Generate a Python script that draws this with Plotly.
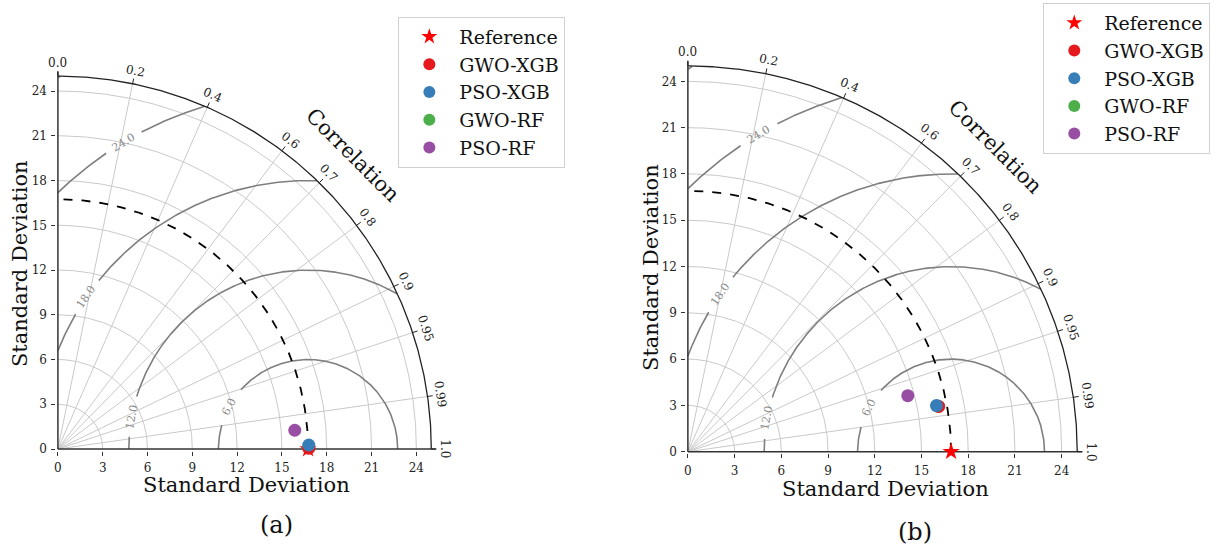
import numpy as np
import plotly.graph_objects as go

# ---------------- data ----------------
models = ["GWO-XGB", "PSO-XGB", "GWO-RF", "PSO-RF"]
model_colors = ["#e41a1c", "#377eb8", "#4daf4a", "#984ea3"]
draw_order = [2, 0, 1, 3]  # green hidden beneath red/blue

ref_std_a = 16.75
std_a = [16.80, 16.80, 16.79, 15.91]
corr_a = [0.999995, 0.99987, 0.99995, 0.99686]

ref_std_b = 16.9
std_b = [16.37, 16.24, 16.33, 14.58]
corr_b = [0.9838, 0.9829, 0.9836, 0.9685]

corr_ticks = [0.0, 0.2, 0.4, 0.6, 0.7, 0.8, 0.9, 0.95, 0.99, 1.0]
corr_tick_labels = ["0.0", "0.2", "0.4", "0.6", "0.7", "0.8", "0.9", "0.95", "0.99", "1.0"]
std_ticks = [0, 3, 6, 9, 12, 15, 18, 21, 24]
std_tick_labels = ["0", "3", "6", "9", "12", "15", "18", "21", "24"]
rms_levels = [6, 12, 18, 24, 30]
rms_labels = ["6.0", "12.0", "18.0", "24.0", ""]
max_std = 25.0

# ---------------- style ----------------
SERIF = "DejaVu Serif"
label_angle = {6: 151.5, 12: 169.5, 18: 145.5, 24: 121.0}
GRID = "#c9c9c9"
CONT = "#7f7f7f"
AX_END = 25.3
RMIN, RMAX = -0.1, 27.8

fig = go.Figure()


def arc_pts(cx, r, t0, t1, n=400):
    t = np.linspace(t0, t1, n)
    return cx + r * np.cos(t), r * np.sin(t)


def line(xa, ya, x, y, **kw):
    fig.add_trace(go.Scatter(x=x, y=y, mode="lines", line=kw, xaxis=xa, yaxis=ya,
                             showlegend=False, hoverinfo="skip", connectgaps=False))


def panel(xa, ya, ref_std, stds, corrs, legend_name):
    # std grid circles
    gx, gy = [], []
    for s in std_ticks[1:]:
        x, y = arc_pts(0, s, 0, np.pi / 2, 200)
        gx += list(x) + [None]
        gy += list(y) + [None]
    # correlation rays
    for c in corr_ticks[1:-1]:
        th = np.arccos(c)
        gx += [0, max_std * np.cos(th), None]
        gy += [0, max_std * np.sin(th), None]
    line(xa, ya, gx, gy, color=GRID, width=1)

    # RMS contours centred on the reference
    cx_, cy_ = [], []
    for lev, lab in zip(rms_levels, rms_labels):
        t = np.linspace(0, np.pi, 1500)
        x = ref_std + lev * np.cos(t)
        y = lev * np.sin(t)
        ok = (np.hypot(x, y) <= max_std) & (x >= 0)
        if lab:
            phi = np.deg2rad(label_angle[lev])
            ok &= np.abs(t - phi) > 1.35 / lev
        for xi, yi, k in zip(x, y, ok):
            if k:
                cx_.append(xi); cy_.append(yi)
            elif cx_ and cx_[-1] is not None:
                cx_.append(None); cy_.append(None)
        cx_.append(None); cy_.append(None)
        if lab:
            phi = np.deg2rad(label_angle[lev])
            fig.add_annotation(x=ref_std + lev * np.cos(phi), y=lev * np.sin(phi), xref=xa, yref=ya,
                               xanchor="center", yanchor="middle",
                               text=lab, showarrow=False, textangle=-(label_angle[lev] - 90),
                               font=dict(family=SERIF, size=11, color="#8a8a8a"))
    line(xa, ya, cx_, cy_, color=CONT, width=1.6)

    # reference std arc (dashed)
    x, y = arc_pts(0, ref_std, 0, np.pi / 2)
    line(xa, ya, x, y, color="black", width=1.8, dash="dash")
    # outer arc
    x, y = arc_pts(0, max_std, 0, np.pi / 2)
    line(xa, ya, x, y, color="#222", width=1.3)
    # axis spines
    line(xa, ya, [0, AX_END, None, 0, 0], [0, 0, None, 0, AX_END], color="#333", width=1.5)
    # correlation ticks and labels
    tx, ty = [], []
    for c, lab in zip(corr_ticks, corr_tick_labels):
        th = np.arccos(c)
        tx += [max_std * np.cos(th), (max_std + 0.35) * np.cos(th), None]
        ty += [max_std * np.sin(th), (max_std + 0.35) * np.sin(th), None]
        fig.add_annotation(x=25.9 * np.cos(th), y=25.9 * np.sin(th), xref=xa, yref=ya,
                           xanchor="center", yanchor="middle",
                           text=lab, showarrow=False, textangle=90 - np.degrees(th),
                           font=dict(family=SERIF, size=12, color="#222"))
    line(xa, ya, tx, ty, color="#222", width=1)
    fig.add_annotation(x=27.9 * np.cos(np.pi / 4), y=27.9 * np.sin(np.pi / 4), xref=xa, yref=ya,
                       xanchor="center", yanchor="middle",
                       text="Correlation", showarrow=False, textangle=45,
                       font=dict(family=SERIF, size=21, color="#111"))

    # reference point
    fig.add_trace(go.Scatter(x=[ref_std], y=[0], mode="markers", name="Reference",
                             marker=dict(symbol="star", size=13, color="red"),
                             xaxis=xa, yaxis=ya, cliponaxis=False, legend=legend_name, legendrank=1))
    for i in draw_order:
        th = np.arccos(corrs[i])
        fig.add_trace(go.Scatter(x=[stds[i] * np.cos(th)], y=[stds[i] * np.sin(th)], mode="markers",
                                 name=models[i], marker=dict(size=13, color=model_colors[i]),
                                 xaxis=xa, yaxis=ya, cliponaxis=False, legend=legend_name,
                                 legendrank=2 + i))


panel("x", "y", ref_std_a, std_a, corr_a, "legend")
panel("x2", "y2", ref_std_b, std_b, corr_b, "legend2")

W, H = 1216, 548


def dom_x(x0, s):
    return [(x0 + RMIN * s) / W, (x0 + RMAX * s) / W]


def dom_y(y0, s):
    return [(H - (y0 - RMIN * s)) / H, (H - (y0 - RMAX * s)) / H]


axis_common = dict(range=[RMIN, RMAX], tickvals=std_ticks, ticktext=std_tick_labels, ticks="outside",
                   ticklen=4, tickwidth=1, tickcolor="#333", showline=False, ticklabelstandoff=2,
                   showgrid=False, zeroline=False,
                   tickfont=dict(family=SERIF, size=12, color="#222"))
title_font = dict(family=SERIF, size=21, color="#111")
leg_common = dict(xanchor="left", yanchor="top", bgcolor="white", bordercolor="#d0d0d0", borderwidth=1,
                  font=dict(family=SERIF, size=19, color="#111"), itemsizing="constant", itemwidth=50)

fig.update_layout(
    width=W, height=H, margin=dict(l=0, r=0, t=0, b=0),
    paper_bgcolor="white", plot_bgcolor="white",
    xaxis=dict(domain=dom_x(56, 14.96), anchor="y", **axis_common),
    yaxis=dict(domain=dom_y(454, 15.08), anchor="x", **axis_common),
    xaxis2=dict(domain=dom_x(687, 15.6), anchor="y2", **axis_common),
    yaxis2=dict(domain=dom_y(456.7, 15.6), anchor="x2", **axis_common),
    legend=dict(x=397 / W, y=1 - 17 / H, **leg_common),
    legend2=dict(x=1043 / W, y=1 - 3 / H, **leg_common),
    showlegend=True,
)

# axis titles and panel captions
for (px, py, ang) in [(245, 490, 0), (18, 266, -90), (885, 494, 0), (650, 270, -90)]:
    fig.add_annotation(x=px / W, y=1 - py / H, xref="paper", yref="paper", text="Standard Deviation",
                       showarrow=False, textangle=ang, xanchor="center", yanchor="middle",
                       font=title_font)
for (px, py, txt) in [(275, 531, "(a)"), (915, 538, "(b)")]:
    fig.add_annotation(x=px / W, y=1 - py / H, xref="paper", yref="paper", text=txt, showarrow=False,
                       xanchor="center", yanchor="middle", font=dict(family=SERIF, size=24, color="#111"))

fig.write_html("out.html")
